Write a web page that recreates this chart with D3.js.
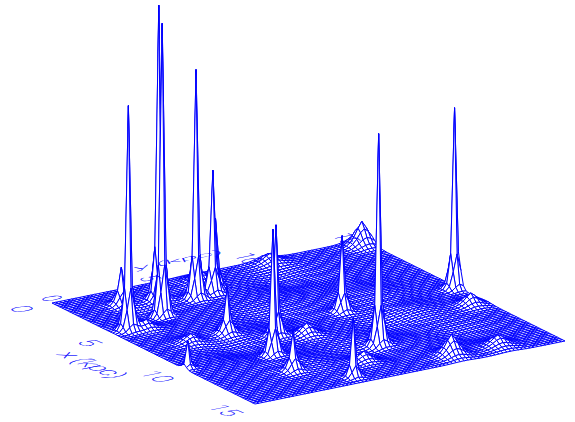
<!DOCTYPE html>
<html><head><meta charset="utf-8">
<script src="https://cdn.jsdelivr.net/npm/d3@7/dist/d3.min.js"></script>
<style>html,body{margin:0;padding:0;background:#fff}svg{display:block}</style>
</head><body><svg id="c" width="575" height="422"></svg>
<script>
// Peaks: position (kpc), spike height, skirt height, skirt width (kpc)
const peakX = [4.5,1.875,3.5625,2.625,2.4375,2.0625,10.3125,8.25,7.125,11.25,7.125,14.25,12.42,6.92,9.7,1.67,4.61,7.18,0.4,0.6,9.24,14.1,14.1,8.84,12.66,0.9];
const peakY = [0.75,3.9375,3.0,5.25,6.1875,6.5625,3.9375,5.4375,9.375,8.4375,14.8125,5.25,3.48,3.94,0.25,2.2,1.43,1.98,10.29,14.6,14.2,10.15,12.45,6.55,6.71,6.5];
const spikeZ = [200,270,270,205,98,45,102,87,52,187,157,45,21,28,24,16,0,0,0,0,0,0,0,0,0,0];
const skirtZ = [24,24,24,24,24,24,24,24,24,24,24,14,18,18,3,22,9,9,9,24,12,21,11,12,11,10];
const skirtW = [.24,.24,.24,.24,.24,.24,.24,.24,.24,.24,.24,.2,.28,.28,.2,.28,.38,.45,.5,.42,.42,.42,.5,.42,.45,.5];
// Broad, low swells of the mesh
const swellX = [3.2,6.2,8.6,11.5,11.9,6.0,2.5,9.5,8.5,12];
const swellY = [2.6,6.5,3.2,4.5,7.4,11.8,9.5,10,12,12];
const swellZ = [-4,-4,-4,3,-4,3,-4,-4,3,-3];
const swellW = [.7,.9,.8,.8,.8,.9,.9,.9,.8,.8];
const xTicks = [0,5,10,15];
const yTicks = [0,5,10,15];
const xLabel = "x (kpc)", yLabel = "y (kpc)";
const N = 80;

const BLUE = "#0000ff";
const ext = [0,15];
const sxX = d3.scaleLinear().domain(ext).range([0,203]);
const sxY = d3.scaleLinear().domain(ext).range([0,101]);
const syX = d3.scaleLinear().domain(ext).range([0,310]);
const syY = d3.scaleLinear().domain(ext).range([0,-63]);
const sz  = d3.scaleLinear().domain([0,300]).range([0,300]);
const proj = (x,y,z=0)=>[52+sxX(x)+syX(y), 303+sxY(x)+syY(y)-sz(z)];
const step = 15/N;
const grid = d3.range(N+1).map(i=>i*step);
const snap = v=>Math.round(v/step)*step;
function height(x,y){
  let z=0;
  peakX.forEach((px,i)=>{
    const r=Math.hypot(x-snap(px),y-snap(peakY[i]));
    z+=spikeZ[i]*Math.exp(-r/0.1)+skirtZ[i]*Math.exp(-Math.pow(r/skirtW[i],1.5));
  });
  swellX.forEach((px,i)=>{const r=Math.hypot(x-px,y-swellY[i]);z+=swellZ[i]*Math.exp(-r*r/(2*swellW[i]*swellW[i]));});
  return z;
}
const Z = grid.map(x=>grid.map(y=>height(x,y)));
const cells=[];
for(let i=0;i<N;i++) for(let j=N-1;j>=0;j--) cells.push([i,j]);
const svg = d3.select("#c");
const line = d3.line();
svg.append("g").selectAll("path").data(cells).join("path")
  .attr("d",([i,j])=>line([[i,j],[i+1,j],[i+1,j+1],[i,j+1]].map(([a,b])=>proj(grid[a],grid[b],Z[a][b])))+"Z")
  .attr("fill","#fff").attr("stroke",BLUE).attr("stroke-width",1);

// projected text
function label(t,x,y,m){
  const p=proj(x,y);
  svg.append("text").text(t)
   .attr("transform",`matrix(${m[0]},${m[1]},${m[2]},${m[3]},${p[0]},${p[1]})`)
   .attr("text-anchor","middle")
   .attr("font-family","Roboto,'Liberation Sans',sans-serif").attr("font-weight",100)
   .attr("font-size",10).attr("fill",BLUE).attr("stroke",BLUE).attr("stroke-width",0.12);
}
const xm=[2.0,0.85,-2.47,0.49], ym=[1.1,0.75,-2.47,0.49], lm=[3.1,-0.6,0.3,0.55];
xTicks.forEach(t=>label(t,t,-1.88,xm));
yTicks.forEach(t=>label(t,-0.5,.95*t-0.1,ym));
label(xLabel,7.4,-3.3,xm);
label(yLabel,-1.6,7.2,lm);
</script></body></html>
